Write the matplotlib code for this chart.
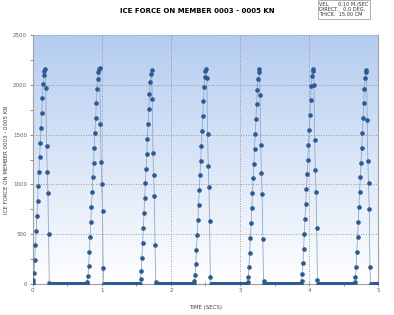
import numpy as np
import matplotlib
matplotlib.use('Agg')
from matplotlib import pyplot as plt
from matplotlib.colors import LinearSegmentedColormap
from matplotlib.ticker import MultipleLocator

# Ice force samples, one every 0.01 s; each cycle = rise + fall, zero otherwise
DT = 0.01
T_END = 5.0

cycle_starts = [0.00, 0.79, 1.56, 2.34, 3.11, 3.89, 4.66]

cycle_values = [
    [10, 40, 110, 240, 390, 530, 680, 830, 980, 1130, 1280, 1420, 1570, 1720, 1870, 2010, 2100, 2140, 2160,
     1970, 1390, 1130, 910, 500, 10],
    [20, 80, 180, 320, 470, 620, 770, 920, 1070, 1220, 1370, 1520, 1670, 1820, 1960, 2060, 2130, 2160, 2170,
     1610, 1230, 1000, 730, 160],
    [50, 130, 260, 410, 560, 710, 860, 1010, 1160, 1310, 1460, 1610, 1760, 1910, 2030, 2110, 2150,
     1860, 1320, 1090, 880, 390, 20],
    [30, 90, 200, 340, 490, 640, 790, 940, 1090, 1240, 1390, 1540, 1690, 1840, 1980, 2080, 2140, 2155,
     2070, 1510, 1190, 970, 630, 70],
    [20, 70, 170, 310, 460, 610, 760, 910, 1060, 1210, 1360, 1510, 1660, 1810, 1950, 2060, 2130, 2160,
     1900, 1400, 1120, 900, 450, 30],
    [30, 100, 210, 350, 500, 650, 800, 950, 1100, 1250, 1400, 1550, 1700, 1850, 1990, 2090, 2140, 2160,
     2000, 1450, 1150, 920, 560, 40],
    [20, 70, 170, 320, 470, 620, 770, 920, 1070, 1220, 1370, 1520, 1670, 1820, 1960, 2070, 2130, 2150,
     1650, 1240, 1010, 750, 170],
]

title = 'ICE FORCE ON MEMBER 0003 - 0005 KN'
info_lines = ['VEL.     0.10 M./SEC', 'DIRECT.   0.0 DEG.', 'THICK.  15.00 CM']

n = int(round(T_END / DT)) + 1
time = np.arange(n) * DT
force = np.zeros(n)
for start, vals in zip(cycle_starts, cycle_values):
    i0 = int(round(start / DT))
    force[i0:i0 + len(vals)] = vals

fig = plt.figure(figsize=(3.94, 3.15), dpi=100)
ax = fig.add_axes([0.083, 0.098, 0.877, 0.791])

# background gradient: light blue at top to white at bottom
cmap = LinearSegmentedColormap.from_list('bg', ['#ffffff', '#b4ccef'])
grad = np.linspace(0, 1, 256).reshape(-1, 1)
ax.imshow(grad, extent=[0, 5, 0, 2500], aspect='auto', cmap=cmap, origin='lower', zorder=0)

ax.plot(time, force, color='#8fa9c8', lw=0.6, zorder=2)
ax.plot(time, force, linestyle='none', marker='o', markersize=2.3, color='#2b5a94', zorder=3)

ax.set_xlim(0, 5)
ax.set_ylim(0, 2500)
ax.xaxis.set_major_locator(MultipleLocator(1))
ax.xaxis.set_minor_locator(MultipleLocator(0.5))
ax.yaxis.set_major_locator(MultipleLocator(500))
ax.yaxis.set_minor_locator(MultipleLocator(250))
ax.grid(True, which='major', linestyle=(0, (1, 2)), color='#808080', lw=0.6, zorder=1)
ax.tick_params(axis='both', which='both', labelsize=4, colors='#606060', width=0.5, length=2.5)
ax.tick_params(axis='x', which='both', direction='inout', length=3)
ax.tick_params(axis='both', which='major', pad=1.5)

for side in ['top']:
    ax.spines[side].set_visible(False)
for side in ['left', 'bottom', 'right']:
    ax.spines[side].set_color('#a0a0a0')
    ax.spines[side].set_linewidth(0.8)

ax.set_xlabel('TIME (SECS)', fontsize=4, color='#404040')
ax.set_ylabel(title, fontsize=4, color='#404040')
ax.xaxis.set_label_coords(0.5, -0.085)
ax.yaxis.set_label_coords(-0.068, 0.5)

fig.text(0.5, 0.965, title, ha='center', va='center', fontsize=5, fontweight='bold')
fig.text(0.81, 0.995, '\n'.join(info_lines), ha='left', va='top', fontsize=3.6,
         linespacing=1.1, color='#303030',
         bbox=dict(boxstyle='square,pad=0.3', fc='white', ec='#909090', lw=0.5))

fig.savefig('out.png', dpi=100)
